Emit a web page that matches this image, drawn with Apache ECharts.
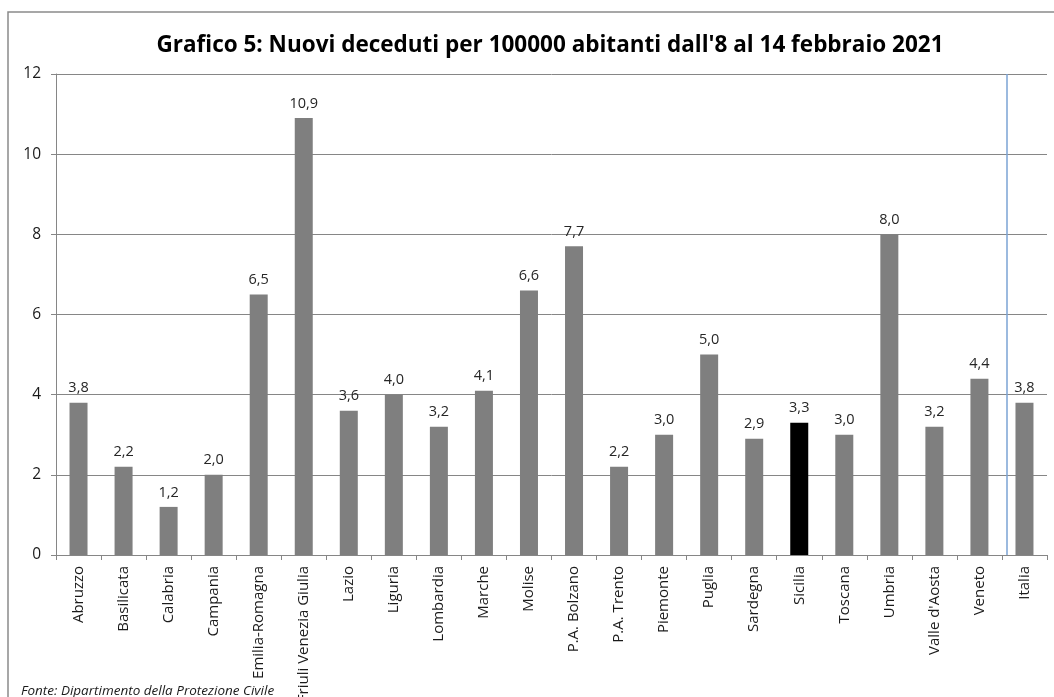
<!DOCTYPE html>
<html>
<head>
<meta charset="utf-8">
<script src="https://cdn.jsdelivr.net/npm/echarts@6/dist/echarts.min.js"></script>
<style>
  html, body { margin: 0; padding: 0; background: #fff; }
  #container { width: 1054px; height: 697px; }
</style>
</head>
<body>
<div id="container"></div>
<script>
// regioni e nuovi deceduti per 100000 abitanti (8-14 febbraio 2021)
var regioni = ['Abruzzo', 'Basilicata', 'Calabria', 'Campania', 'Emilia-Romagna',
  'Friuli Venezia Giulia', 'Lazio', 'Liguria', 'Lombardia', 'Marche', 'Molise',
  'P.A. Bolzano', 'P.A. Trento', 'Piemonte', 'Puglia', 'Sardegna', 'Sicilia',
  'Toscana', 'Umbria', "Valle d'Aosta", 'Veneto', 'Italia'];
var deceduti = [3.8, 2.2, 1.2, 2.0, 6.5, 10.9, 3.6, 4.0, 3.2, 4.1, 6.6, 7.7, 2.2,
  3.0, 5.0, 2.9, 3.3, 3.0, 8.0, 3.2, 4.4, 3.8];
var yTicks = [0, 2, 4, 6, 8, 10, 12];
var evidenziata = 'Sicilia';
var separatore = 21.1; // linea tra regioni e Italia

var fontBase = '"Open Sans", "Noto Sans", sans-serif';

var barData = deceduti.map(function (v, i) {
  return {
    value: v,
    itemStyle: { color: regioni[i] == evidenziata ? '#000000' : '#7f7f7f' }
  };
});

var myChart = echarts.init(document.getElementById('container'));
var option = {
  animation: false,
  backgroundColor: '#fff',
  textStyle: { fontFamily: fontBase },
  title: [{
    text: "Grafico 5: Nuovi deceduti per 100000 abitanti dall'8 al 14 febbraio 2021",
    left: 545,
    top: 29,
    textAlign: 'center',
    textStyle: { fontSize: 22.5, fontWeight: 'bold', color: '#000', fontFamily: fontBase }
  }, {
    text: 'Fonte: Dipartimento della Protezione Civile',
    left: 16,
    top: 679,
    textStyle: { fontSize: 13.5, fontStyle: 'italic', fontWeight: 'normal', color: '#1a1a1a', fontFamily: fontBase }
  }],
  graphic: [{
    type: 'rect',
    shape: { x: 8, y: 12, width: 1200, height: 800 },
    style: { fill: 'none', stroke: '#8a8a8a', lineWidth: 1.5 },
    silent: true
  }],
  grid: { left: 56, right: 7, top: 74, bottom: 142, containLabel: false, outerBoundsMode: 'none' },
  xAxis: [{
    type: 'category',
    data: regioni,
    axisLine: { lineStyle: { color: '#868686' } },
    axisTick: { show: true, length: 5, lineStyle: { color: '#868686' } },
    axisLabel: {
      interval: 0,
      rotate: 90,
      fontSize: 15,
      color: '#1a1a1a',
      margin: 11
    }
  }, {
    type: 'value',
    min: 0,
    max: regioni.length,
    show: false
  }],
  yAxis: {
    type: 'value',
    min: yTicks[0],
    max: yTicks[yTicks.length - 1],
    interval: 2,
    axisLine: { show: true, lineStyle: { color: '#868686' } },
    axisTick: { show: true, length: 5, lineStyle: { color: '#868686' } },
    axisLabel: { fontSize: 15.5, color: '#1a1a1a', margin: 15 },
    splitLine: { lineStyle: { color: '#868686', width: 1 } }
  },
  series: [{
    type: 'bar',
    xAxisIndex: 0,
    barWidth: 18,
    data: barData,
    label: {
      show: true,
      position: 'top',
      distance: 7,
      fontSize: 14.5,
      color: '#262626',
      formatter: function (p) { return p.value.toFixed(1).replace('.', ','); }
    }
  }, {
    type: 'line',
    xAxisIndex: 1,
    data: [],
    markLine: {
      silent: true,
      symbol: 'none',
      label: { show: false },
      lineStyle: { color: '#7ba3d4', width: 1.5, type: 'solid' },
      data: [{ xAxis: separatore }]
    }
  }]
};
myChart.setOption(option);
</script>
</body>
</html>
